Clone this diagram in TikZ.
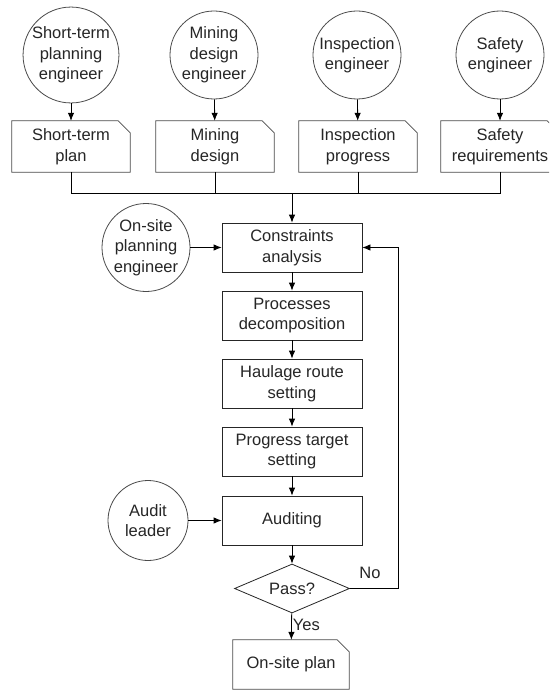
\documentclass[tikz,border=0pt]{standalone}
\usepackage{fontspec}
\setmainfont{Liberation Sans}
\usetikzlibrary{arrows.meta,shapes.geometric}

\definecolor{shapeline}{HTML}{4A4A4A}

\tikzset{
  lbl/.style={font=\fontsize{16.5}{20.5}\selectfont, text=black!85, align=center, inner sep=0pt},
  actor/.style={lbl, circle, draw=shapeline, line width=0.8pt, minimum size=88pt},
  smallactor/.style={lbl, circle, draw=shapeline, line width=0.8pt, minimum size=80pt},
  docnode/.style={lbl, rectangle, minimum width=118pt, minimum height=51pt},
  stepbox/.style={lbl, rectangle, draw=black!85, line width=0.8pt, minimum width=140pt, minimum height=49pt},
  decision/.style={lbl, diamond, draw=black!85, line width=0.8pt, minimum width=115pt, minimum height=49pt, aspect=2.35},
  link/.style={draw=black, line width=0.8pt},
  flow/.style={link, -{Latex[length=8pt,width=6.5pt]}},
  docline/.style={draw=shapeline, line width=0.8pt},
}

% document symbol: rectangle with the top right corner cut off
\newcommand\docoutline[1]{%
  \draw[docline] (#1.south west) -- (#1.north west) -- ([xshift=-12pt]#1.north east)
    -- ([yshift=-12pt]#1.north east) -- (#1.south east) -- cycle;}

\begin{document}
\begin{tikzpicture}[x=1pt,y=-1pt]
  \useasboundingbox (0,0) rectangle (549,690);
  \clip (0,0) rectangle (549,690);
  \fill[white] (0,0) rectangle (549,690);

  % roles at the top
  \node[actor] (e1) at (71,55)  {Short-term\\planning\\engineer};
  \node[actor] (e2) at (214,55) {Mining\\design\\engineer};
  \node[actor] (e3) at (357,55) {Inspection\\engineer};
  \node[actor] (e4) at (500,55) {Safety\\engineer};

  % their documents
  \node[docnode] (d1) at (71,146.5)  {Short-term\\plan};
  \node[docnode] (d2) at (215,146.5) {Mining\\design};
  \node[docnode] (d3) at (358,146.5) {Inspection\\progress};
  \node[docnode] (d4) at (500,146.5) {Safety\\requirements};
  \foreach \d in {d1,d2,d3,d4} {\docoutline{\d}}

  \foreach \i in {1,2,3,4} {\draw[flow] (e\i) -- (d\i);}

  % collecting line
  \coordinate (bus) at (292,193);
  \draw[link] (d1.south) |- (bus);
  \draw[link] (d4.south) |- (bus);
  \draw[link] (d2.south) -- (d2.south |- bus);
  \draw[link] (d3.south) -- (d3.south |- bus);

  % main process
  \node[stepbox] (ca)  at (292,247.5) {Constraints\\analysis};
  \node[stepbox] (pd)  at (292,315.5) {Processes\\decomposition};
  \node[stepbox] (hr)  at (292,383.5) {Haulage route\\setting};
  \node[stepbox] (pt)  at (292,451.5) {Progress target\\setting};
  \node[stepbox] (aud) at (292,520.5) {Auditing};
  \node[decision] (pass) at (292,588.5) {Pass?};
  \node[docnode, minimum width=116pt, minimum height=49pt] (plan) at (291,664.5) {On-site plan};
  \docoutline{plan}

  \node[actor] (os) at (146,247.5) {On-site\\planning\\engineer};
  \node[smallactor] (al) at (148,520.5) {Audit\\leader};

  \draw[flow] (bus) -- (ca);
  \draw[flow] (os) -- (ca);
  \draw[flow] (ca) -- (pd);
  \draw[flow] (pd) -- (hr);
  \draw[flow] (hr) -- (pt);
  \draw[flow] (pt) -- (aud);
  \draw[flow] (al) -- (aud);
  \draw[flow] (aud) -- (pass);
  \draw[flow] (pass) -- node[lbl, right=1pt, pos=0.45] (yes) {Yes} (plan);

  \coordinate (back) at (398,588.5);
  \draw[flow] (pass.east) -- (back) |- (ca.east);
  \node[lbl] (no) at (370,573) {No};
\end{tikzpicture}
\end{document}
